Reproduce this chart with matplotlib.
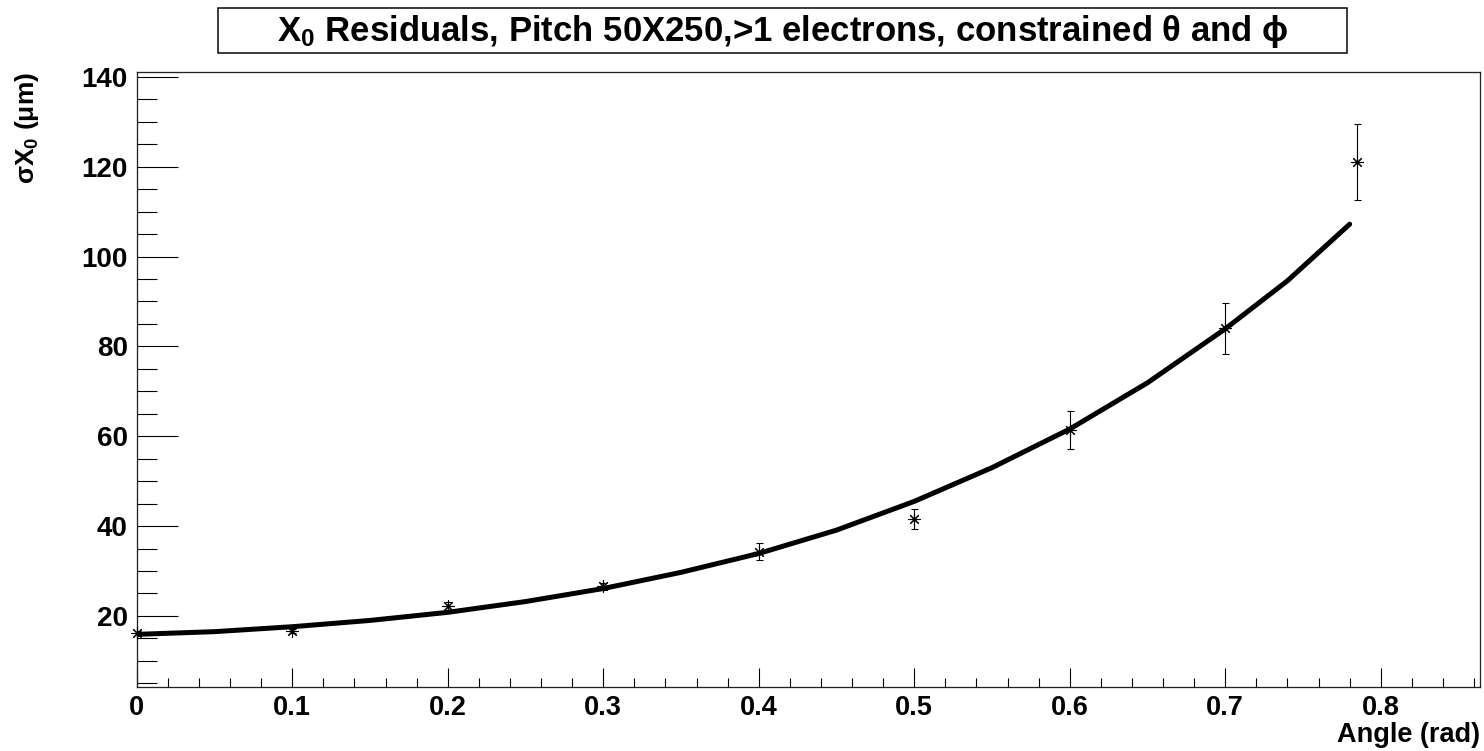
import matplotlib
matplotlib.use("Agg")
import matplotlib.pyplot as plt
from matplotlib.patches import Rectangle
from matplotlib.ticker import MultipleLocator, FuncFormatter

plt.rcParams['font.family'] = ['Liberation Sans', 'DejaVu Sans']
plt.rcParams['font.weight'] = 'bold'
plt.rcParams['mathtext.fontset'] = 'custom'
plt.rcParams['mathtext.rm'] = 'Liberation Sans'
plt.rcParams['mathtext.bf'] = 'Liberation Sans:bold'
plt.rcParams['mathtext.it'] = 'Liberation Sans:italic'

# measured points
angle = [0.0, 0.1, 0.2, 0.3, 0.4, 0.5, 0.6, 0.7, 0.785]
sigma = [16.1, 16.6, 22.2, 26.6, 34.3, 41.5, 61.4, 84.0, 121.0]
sigma_err = [0.5, 0.5, 0.9, 0.8, 1.9, 2.2, 4.2, 5.7, 8.5]

# fit curve
fit_x = [0.0, 0.05, 0.1, 0.15, 0.2, 0.25, 0.3, 0.35, 0.4, 0.45, 0.5,
         0.55, 0.6, 0.65, 0.7, 0.74, 0.78]
fit_y = [15.9, 16.5, 17.6, 19.0, 20.8, 23.2, 26.1, 29.7, 33.9, 39.1, 45.5,
         53.0, 61.6, 71.9, 83.9, 94.6, 107.2]

title = (r"$\mathbf{X_0}$ Residuals, Pitch 50X250,>1 electrons, constrained "
         r"$\mathrm{\theta}$ and $\mathrm{\phi}$")
xlabel = "Angle (rad)"
ylabel = r"$\mathrm{\sigma}\mathbf{X_0}$ ($\mathrm{\mu}$m)"

W, H = 1484, 751
PX = 0.72  # points per pixel at dpi 100
fig = plt.figure(figsize=(W / 100, H / 100), dpi=100)
ax = fig.add_axes([136.7 / W, 1 - 686.7 / H, (1480 - 136.7) / W, (686.7 - 72.3) / H])

ax.plot(fit_x, fit_y, color='black', lw=3.6, solid_capstyle='round',
        solid_joinstyle='round', zorder=2)
ax.errorbar(angle, sigma, yerr=sigma_err, fmt='none', ecolor='black',
            elinewidth=1.1 * PX, capsize=3.5 * PX, capthick=1.1 * PX, zorder=3)
ax.plot(angle, sigma, linestyle='none', marker=(8, 2, 0), markersize=12 * PX,
        markeredgewidth=1.1 * PX, color='black', zorder=4, clip_on=False)

ax.set_xlim(0, 0.8638)
ax.set_ylim(4.25, 141.0)

ax.xaxis.set_major_locator(MultipleLocator(0.1))
ax.xaxis.set_minor_locator(MultipleLocator(0.02))
ax.yaxis.set_major_locator(MultipleLocator(20))
ax.yaxis.set_minor_locator(MultipleLocator(5))
ax.xaxis.set_major_formatter(FuncFormatter(lambda v, p: "0" if abs(v) < 1e-9 else f"{v:.1f}"))
ax.yaxis.set_major_formatter(FuncFormatter(lambda v, p: f"{v:.0f}"))

ax.tick_params(axis='x', which='major', direction='in', length=19 * PX, width=1.1 * PX,
               pad=8 * PX, labelsize=19.5, top=False)
ax.tick_params(axis='x', which='minor', direction='in', length=9 * PX, width=1.1 * PX,
               top=False)
ax.tick_params(axis='y', which='major', direction='in', length=41 * PX, width=1.1 * PX,
               pad=9 * PX, labelsize=20, right=False)
ax.tick_params(axis='y', which='minor', direction='in', length=20 * PX, width=1.1 * PX,
               right=False)
for lab in ax.get_xticklabels() + ax.get_yticklabels():
    lab.set_fontweight('bold')
for s in ax.spines.values():
    s.set_linewidth(1.3 * PX)
    s.set_color('#222222')

fig.text(1480 / W, 1 - 742 / H, xlabel, ha='right', va='baseline', fontsize=19.5,
         fontweight='bold')
fig.text(27 / W, 1 - 72 / H, ylabel, rotation=90, ha='center', va='top',
         fontsize=19, fontweight='bold')

# title box
fig.patches.append(Rectangle((218 / W, 1 - 53 / H), (1347 - 218) / W, 45 / H,
                             transform=fig.transFigure, facecolor='white',
                             edgecolor='black', linewidth=1.5 * PX))
fig.text(782.5 / W, 1 - 31 / H, title, ha='center', va='center', fontsize=25,
         fontweight='bold')

fig.savefig("out.png", dpi=100, facecolor='white')
